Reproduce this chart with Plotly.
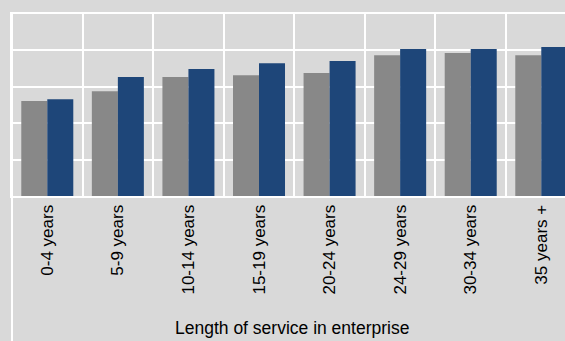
import plotly.graph_objects as go

categories = ["0-4 years", "5-9 years", "10-14 years", "15-19 years",
              "20-24 years", "24-29 years", "30-34 years", "35 years +"]
series_a = [2.61, 2.88, 3.27, 3.32, 3.38, 3.87, 3.93, 3.87]
series_b = [2.66, 3.27, 3.49, 3.65, 3.71, 4.04, 4.04, 4.09]
axis_title = "Length of service in enterprise"

FONT = "Liberation Sans Narrow, Arial Narrow, Liberation Sans, Arial, sans-serif"
BG = "#D9D9D9"

fig = go.Figure()
fig.add_bar(x=categories, y=series_a, name="Series A", marker_color="#888888",
            marker_line_width=0)
fig.add_bar(x=categories, y=series_b, name="Series B", marker_color="#1E4679",
            marker_line_width=0)

fig.update_layout(
    width=565, height=341,
    margin=dict(l=12, r=0, t=14, b=145, pad=0),
    paper_bgcolor=BG, plot_bgcolor=BG,
    barmode="group", bargap=0.263, bargroupgap=0,
    showlegend=False,
    font=dict(family=FONT, size=17, color="#000000"),
)
fig.update_xaxes(
    type="category", range=[-0.5, 7.336],
    tickson="boundaries", showgrid=True, gridcolor="white", gridwidth=2,
    showline=True, linecolor="white", linewidth=2, mirror=True,
    ticks="outside", ticklen=15, tickcolor="rgba(0,0,0,0)",
    tickangle=-90, tickfont=dict(family=FONT, size=17, color="#000000"),
)
fig.update_yaxes(
    range=[0, 5], dtick=1, showgrid=True, gridcolor="white", gridwidth=2,
    showticklabels=False, zeroline=False,
    showline=True, linecolor="white", linewidth=2,
)
fig.add_shape(type="line", xref="paper", yref="paper", x0=0, x1=0, y0=1, y1=-0.85,
              line=dict(color="white", width=2))
fig.add_annotation(text=axis_title, xref="paper", yref="paper", x=0.507, y=-0.725,
                   xanchor="center", yanchor="middle", showarrow=False,
                   font=dict(family=FONT, size=17.5, color="#000000"))

fig.write_html("out.html", config={"displayModeBar": False},
               post_script="document.body.style.margin='0';document.body.style.overflow='hidden';")
